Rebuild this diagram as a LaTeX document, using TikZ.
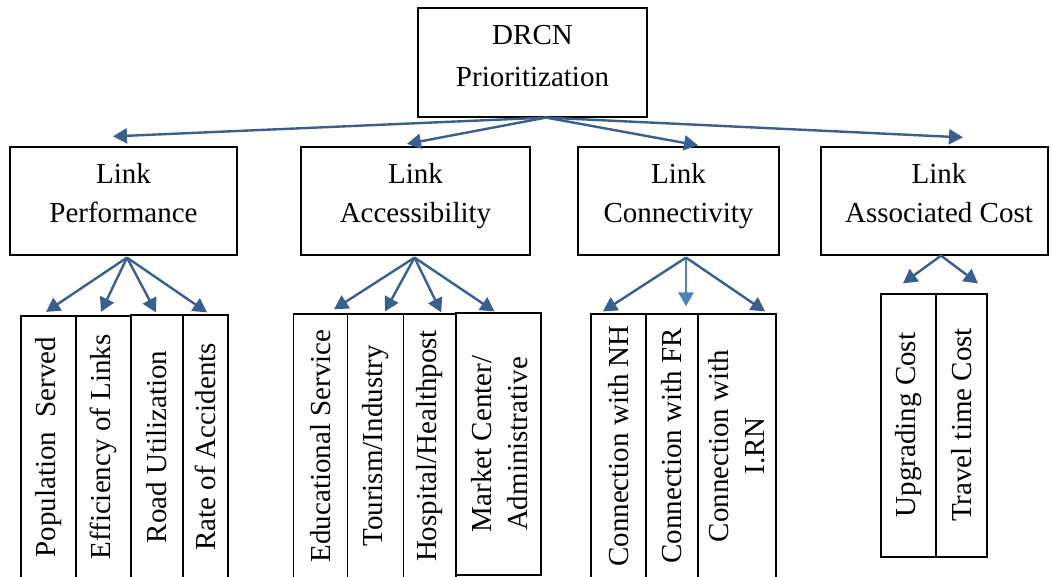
\documentclass[tikz,border=0pt]{standalone}
\usepackage{fontspec}
\setmainfont{Liberation Serif}
\usetikzlibrary{arrows.meta}
\definecolor{arrblue}{RGB}{58,95,142}
\definecolor{arrlight}{RGB}{79,129,189}
\begin{document}
\begin{tikzpicture}[x=1pt,y=-1pt,
  box/.style={draw=black, line width=1.2pt, inner sep=0pt},
  txt/.style={anchor=base, inner sep=0pt, font=\fontsize{29}{39}\selectfont},
  leaf/.style={draw=black, line width=1.2pt, inner sep=0pt},
  vlab/.style={rotate=90, align=center, inner sep=0pt, font=\fontsize{29}{36}\selectfont},
  arr/.style={draw=arrblue, line width=2.4pt, -{Triangle[length=14pt,width=15pt]}},
  arrl/.style={draw=arrlight, line width=2.4pt, -{Triangle[length=14pt,width=15pt]}}]
\useasboundingbox (0,0) rectangle (1052,577);
\clip (0,0) rectangle (1052,577);
\fill[white] (0,0) rectangle (1052,577);
% top
\node[box, minimum width=229pt, minimum height=109pt] (top) at (532.5,62.5) {};
\node[txt] (top1) at (532.5,44.5) {DRCN};
\node[txt] (top2) at (532.5,86.5) {Prioritization};
% level 2
\node[box, minimum width=227pt, minimum height=108pt] (lp) at (123.5,201) {};
\node[box, minimum width=229pt, minimum height=108pt] (la) at (415.5,201) {};
\node[box, minimum width=201pt, minimum height=108pt] (lc) at (678.5,201) {};
\node[box, minimum width=227pt, minimum height=108pt] (lk) at (934.5,201) {};
\node[txt] (lp1) at (123.5,183.5) {Link};
\node[txt] (lp2) at (123.5,222.5) {Performance};
\node[txt] (la1) at (415.5,183.5) {Link};
\node[txt] (la2) at (415.5,222.5) {Accessibility};
\node[txt] (lc1) at (678.5,183.5) {Link};
\node[txt] (lc2) at (678.5,222.5) {Connectivity};
\node[txt] (lk1) at (939,183.5) {Link};
\node[txt] (lk2) at (939,222.5) {Associated Cost};
% level 3 boxes
\node[leaf, minimum width=55pt, minimum height=264pt] (p1) at (48.5,448) {};
\node[leaf, minimum width=55pt, minimum height=264pt] (p2) at (103.5,448) {};
\node[leaf, minimum width=52pt, minimum height=265pt] (p3) at (157,447.5) {};
\node[leaf, minimum width=45pt, minimum height=265pt] (p4) at (205.5,447.5) {};
\node[leaf, minimum width=54pt, minimum height=266pt] (a1) at (320.5,447) {};
\node[leaf, minimum width=56pt, minimum height=266pt] (a2) at (375.5,447) {};
\node[leaf, minimum width=52.5pt, minimum height=266pt] (a3) at (429.75,447) {};
\node[leaf, minimum width=85pt, minimum height=262pt] (a4) at (498.5,444) {};
\node[leaf, minimum width=55pt, minimum height=266pt] (c1) at (618.5,447) {};
\node[leaf, minimum width=52pt, minimum height=266pt] (c2) at (672,447) {};
\node[leaf, minimum width=78pt, minimum height=266pt] (c3) at (737,447) {};
\node[leaf, minimum width=55pt, minimum height=263pt] (k1) at (908.5,425.5) {};
\node[leaf, minimum width=51pt, minimum height=263pt] (k2) at (961.5,425.5) {};
% level 3 labels
\node[vlab] (tp1) at (48.5,447) {Population\ \ Served};
\node[vlab] (tp2) at (103.5,447) {Efficiency of Links};
\node[vlab] (tp3) at (157,447) {Road Utilization};
\node[vlab] (tp4) at (205.5,447) {Rate of Accidents};
\node[vlab] (ta1) at (320.5,446) {Educational Service};
\node[vlab] (ta2) at (375.5,446) {Tourism/Industry};
\node[vlab] (ta3) at (429.75,446) {Hospital/Healthpost};
\node[vlab] (ta4) at (500,444) {Market Center/\\Administrative};
\node[vlab] (tc1) at (618.5,446) {Connection with NH};
\node[vlab] (tc2) at (672,446) {Connection with FR};
\node[vlab] (tc3) at (737,446) {Connection with\\I.RN};
\node[vlab] (tk1) at (908.5,425) {Upgrading Cost};
\node[vlab] (tk2) at (961.5,425) {Travel time Cost};
% arrows top -> level 2
\draw[arr] ([xshift=13.5pt]top.south) -- ([xshift=-10.5pt,yshift=10pt]lp.north);
\draw[arr] ([xshift=13.5pt]top.south) -- ([xshift=-8.5pt,yshift=2.5pt]la.north);
\draw[arr] ([xshift=13.5pt]top.south) -- ([xshift=19.5pt,yshift=1pt]lc.north);
\draw[arr] ([xshift=13.5pt]top.south) -- ([xshift=28.5pt,yshift=9pt]lk.north);
% performance
\draw[arr] ([xshift=3.5pt,yshift=-2pt]lp.south) -- ([xshift=-2.5pt,yshift=3.5pt]p1.north);
\draw[arr] ([xshift=3.5pt,yshift=-2pt]lp.south) -- ([xshift=-2.5pt,yshift=3.5pt]p2.north);
\draw[arr] ([xshift=3.5pt,yshift=-2pt]lp.south) -- ([xshift=-1pt,yshift=2pt]p3.north);
\draw[arr] ([xshift=3.5pt,yshift=-2pt]lp.south) -- ([xshift=1.5pt,yshift=2pt]p4.north);
% accessibility
\draw[arr] ([xshift=-1pt,yshift=-2pt]la.south) -- ([xshift=13.5pt,yshift=4pt]a1.north);
\draw[arr] ([xshift=-1pt,yshift=-2pt]la.south) -- ([xshift=9.5pt,yshift=2pt]a2.north);
\draw[arr] ([xshift=-1pt,yshift=-2pt]la.south) -- ([xshift=11.5pt,yshift=1pt]a3.north);
\draw[arr] ([xshift=-1pt,yshift=-2pt]la.south) -- ([xshift=-4pt,yshift=1pt]a4.north);
% connectivity
\draw[arr] ([xshift=7.5pt,yshift=-2pt]lc.south) -- ([xshift=-15.5pt,yshift=2pt]c1.north);
\draw[arrl] ([xshift=7.5pt,yshift=-2pt]lc.south) -- ([xshift=14pt,yshift=7pt]c2.north);
\draw[arr] ([xshift=7.5pt,yshift=-2pt]lc.south) -- ([xshift=28pt,yshift=2pt]c3.north);
% cost
\draw[arr] ([xshift=6.5pt]lk.south) -- ([xshift=-5.5pt,yshift=10pt]k1.north);
\draw[arr] ([xshift=6.5pt]lk.south) -- ([xshift=16.5pt,yshift=10pt]k2.north);
\end{tikzpicture}
\end{document}
